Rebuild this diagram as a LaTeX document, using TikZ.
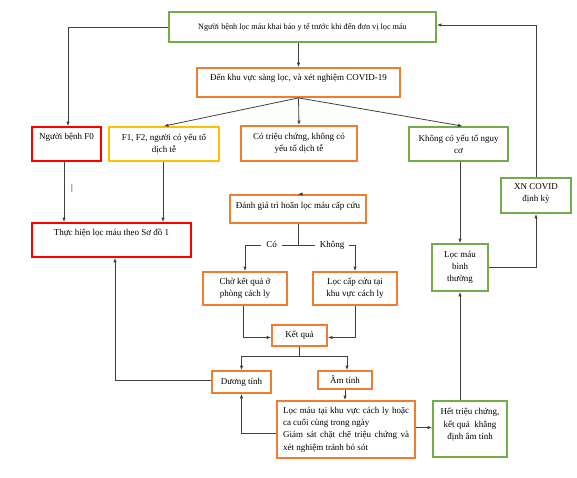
\documentclass[tikz,border=0pt]{standalone}
\usepackage{fontspec}
\setmainfont{Liberation Serif}
\usetikzlibrary{arrows.meta}
\definecolor{cgreen}{RGB}{112,173,71}
\definecolor{corange}{RGB}{237,125,49}
\definecolor{cred}{RGB}{255,0,0}
\definecolor{cyellow}{RGB}{255,192,0}
\definecolor{cline}{RGB}{64,64,64}
\newcommand{\fs}{\fontsize{9pt}{12.3pt}\selectfont}
\newcommand{\fst}{\fontsize{8.2pt}{12.3pt}\selectfont}
\begin{document}
\begin{tikzpicture}[x=1pt,y=-1pt,
  box/.style={draw, line width=1.8pt, inner sep=0pt, fill=white, font=\fs, align=center},
  gbox/.style={box, draw=cgreen},
  obox/.style={box, draw=corange},
  rbox/.style={box, draw=cred},
  ybox/.style={box, draw=cyellow},
  txt/.style={font=\fs, align=center, inner sep=0pt},
  conn/.style={draw=cline, line width=0.8pt},
  arr/.style={conn, -{Latex[length=4.5pt,width=3.5pt]}},
  lbl/.style={font=\fs, fill=white, inner xsep=5pt, inner ysep=1pt},
]
\useasboundingbox[fill=white] (0,0) rectangle (577,478);

% boxes
\node[gbox, font=\fst, minimum width=267pt, minimum height=30pt] (top) at (302.5,27)
  {Người bệnh lọc máu khai báo y tế trước khi đến đơn vị lọc máu};
\node[obox, minimum width=203pt, minimum height=29pt,
  label={[txt, yshift=4.5pt]center:Đến khu vực sàng lọc, và xét nghiệm COVID-19}] (b2) at (298.5,82.5) {};
\node[rbox, minimum width=69pt, minimum height=34pt,
  label={[txt, yshift=7pt]center:Người bệnh F0}] (f0) at (66.5,144) {};
\node[ybox, minimum width=110pt, minimum height=34pt] (f12) at (164,144)
  {F1, F2, người có yếu tố\\dịch tễ};
\node[obox, minimum width=116pt, minimum height=35pt] (cts) at (299,143.5)
  {Có triệu chứng, không có\\yếu tố dịch tễ};
\node[gbox, minimum width=99pt, minimum height=34pt] (kco) at (458.5,144)
  {Không có yếu tố nguy\\cơ};
\node[gbox, minimum width=70pt, minimum height=35pt,
  label={[txt, yshift=2pt]center:{XN COVID\\định kỳ}}] (xn) at (536,195.5) {};
\node[rbox, minimum width=159pt, minimum height=34pt,
  label={[txt, yshift=7pt]center:Thực hiện lọc máu theo Sơ đồ 1}] (th) at (111.5,240) {};
\node[obox, minimum width=136pt, minimum height=28pt,
  label={[txt, yshift=3pt]center:Đánh giá trì hoãn lọc máu cấp cứu}] (dg) at (298,209) {};
\node[obox, minimum width=84pt, minimum height=33pt] (cho) at (245,288.5)
  {Chờ kết quả ở\\phòng cách ly};
\node[obox, minimum width=84pt, minimum height=33pt] (lcc) at (355,288.5)
  {Lọc cấp cứu tại\\khu vực cách ly};
\node[gbox, minimum width=56pt, minimum height=47pt] (lmbt) at (460,267.5)
  {Lọc máu\\bình\\thường};
\node[obox, minimum width=55pt, minimum height=21pt] (kq) at (299.5,335.5) {Kết quả};
\node[obox, minimum width=59pt, minimum height=22pt] (dt) at (241.5,382) {Dương tính};
\node[obox, minimum width=54pt, minimum height=18pt] (am) at (345,380) {Âm tính};
\node[obox, minimum width=138pt, minimum height=57pt] (lmt) at (346,429.5)
  {\parbox{126pt}{\fs\makebox[126pt][s]{Lọc máu tại khu vực cách ly hoặc}\\
   ca cuối cùng trong ngày\\
   \makebox[126pt][s]{Giám sát chặt chẽ triệu chứng và}\\
   xét nghiệm tránh bỏ sót}};
\node[gbox, minimum width=74pt, minimum height=56pt,
  label={[txt, yshift=4.5pt]center:{Hết triệu chứng,\\kết quả\ \ khẳng\\định âm tính}}] (htc) at (470,429) {};

% stray mark
\node[txt] (bar) at (72,188) {|};

% connectors
\draw[arr] (top.west) -| ([xshift=1.5pt]f0.north);
\draw[arr] (xn.north) |- ([yshift=2pt]top.east);
\draw[arr] (b2.north |- top.south) -- (b2.north);
\draw[arr] (b2.south) -- (f12.north);
\draw[arr] (b2.south) -- (cts.north);
\draw[arr] (b2.south) -- ([xshift=4pt]kco.north);
\draw[arr] ([xshift=-2.5pt]f0.south) -- ([xshift=-2.5pt]f0.south |- th.north);
\draw[arr] ([xshift=-1pt]f12.south) -- ([xshift=-1pt]f12.south |- th.north);
\draw[arr] (dg.north -| cts.south) -- (dg.north);
\draw[conn] (dg.south) -- ++(0,21) coordinate (split);
\draw[arr] (split) -- node[lbl, pos=0.5]{Có} (cho.north |- split) -- (cho.north);
\draw[arr] (split) -- node[lbl, pos=0.6]{Không} (lcc.north |- split) -- (lcc.north);
\draw[arr] ([xshift=-2pt]cho.south) |- ([yshift=-2pt]kq.west);
\draw[arr] (lcc.south) |- ([yshift=-2pt]kq.east);
\draw[conn] (kq.south) -- ++(0,9) coordinate (split2);
\draw[arr] (split2) -- (dt.north |- split2) -- (dt.north);
\draw[arr] (split2) -- ([xshift=2pt]am.north |- split2) -- ([xshift=2pt]am.north);
\draw[arr] (am.south) -- (am.south |- lmt.north);
\draw[arr] ([yshift=2pt]dt.west) -| ([xshift=3.5pt]th.south);
\draw[arr] ([yshift=-3.5pt]lmt.west) -| (dt.south);
\draw[arr] ([yshift=2pt]lmt.east) -- ([yshift=2pt]lmt.east -| htc.west);
\draw[arr] (lmbt.south |- htc.north) -- (lmbt.south);
\draw[arr] (lmbt.north |- kco.south) -- (lmbt.north);
\draw[arr] (lmbt.east) -| (xn.south);
\end{tikzpicture}
\end{document}
